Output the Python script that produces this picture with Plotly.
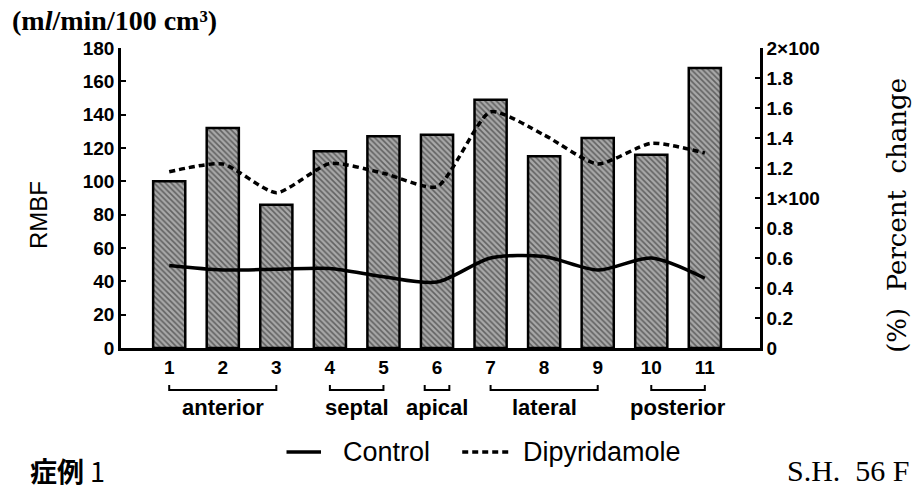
import plotly.graph_objects as go

# Regional myocardial blood flow per segment and percent change curves
segments = list(range(1, 12))
segment_labels = [str(s) for s in segments]
rmbf = [100, 132, 86, 118, 127, 128, 149, 115, 126, 116, 168]
control = [0.55, 0.52, 0.525, 0.53, 0.475, 0.44, 0.60, 0.61, 0.52, 0.60, 0.465]
dipyridamole = [1.175, 1.227, 1.035, 1.23, 1.165, 1.075, 1.575, 1.42, 1.227, 1.365, 1.30]

left_ticks = list(range(0, 181, 20))
right_ticks = [0, 0.2, 0.4, 0.6, 0.8, 1.0, 1.2, 1.4, 1.6, 1.8, 2.0]
right_ticktext = ["0", "0.2", "0.4", "0.6", "0.8", "1×100", "1.2", "1.4", "1.6", "1.8", "2×100"]

# Segment groups: (name, first segment, last segment)
groups = [("anterior", 1, 3), ("septal", 4, 5), ("apical", 6, 6),
          ("lateral", 7, 9), ("posterior", 10, 11)]

SANS = "Liberation Sans, Arial, sans-serif"
SERIF = "Liberation Serif, Times New Roman, serif"
SLAB = "DejaVu Serif, serif"

fig = go.Figure()

fig.add_trace(go.Bar(
    x=segments, y=rmbf, width=0.6, showlegend=False,
    marker=dict(color="#a8a8a8",
                line=dict(color="black", width=2.5),
                pattern=dict(shape="\\", fgcolor="#1a1a1a", size=4, solidity=0.4)),
))

line_styles = {
    "Control": dict(color="black", width=3.5, shape="spline", smoothing=0.8),
    "Dipyridamole": dict(color="black", width=3.5, dash="6px,4px", shape="spline", smoothing=0.6),
}
fig.add_trace(go.Scatter(x=segments, y=control, yaxis="y2", mode="lines",
                         name="Control", showlegend=False, line=line_styles["Control"]))
fig.add_trace(go.Scatter(x=segments, y=dipyridamole, yaxis="y2", mode="lines",
                         name="Dipyridamole", showlegend=False, line=line_styles["Dipyridamole"]))

shapes = []
annotations = []

# Brackets under the segment numbers, with group names
for name, first, last in groups:
    pad = 0.23 if first == last else 0.0
    x0, x1 = first - pad, last + pad
    path = f"M {x0},-0.123 L {x0},-0.14 L {x1},-0.14 L {x1},-0.123"
    shapes.append(dict(type="path", xref="x", yref="paper", path=path,
                       line=dict(color="black", width=2)))
    annotations.append(dict(x=(first + last) / 2, y=-0.197, xref="x", yref="paper",
                            text=f"<b>{name}</b>", showarrow=False,
                            font=dict(family=SANS, size=22, color="black"),
                            xanchor="center", yanchor="middle"))

# Key for the two curves
legend_items = [("Control", 0.259, 0.313, 0.345), ("Dipyridamole", 0.534, 0.609, 0.626)]
for name, lx0, lx1, tx in legend_items:
    st = line_styles[name]
    shapes.append(dict(type="line", xref="paper", yref="paper", x0=lx0, x1=lx1,
                       y0=-0.347, y1=-0.347,
                       line=dict(color="black", width=3.5, dash=st.get("dash", "solid"))))
    annotations.append(dict(x=tx, y=-0.347, xref="paper", yref="paper", text=name,
                            xanchor="left", yanchor="middle", showarrow=False,
                            font=dict(family=SANS, size=27, color="black")))

annotations += [
    dict(x=-0.174, y=1.093, xref="paper", yref="paper", xanchor="left", yanchor="middle",
         text="<b>(m<i>l</i>/min/100 cm³)</b>", showarrow=False,
         font=dict(family=SERIF, size=28, color="black")),
    dict(x=-0.13, y=0.443, xref="paper", yref="paper", xanchor="center", yanchor="middle",
         text="RMBF", textangle=-90, showarrow=False,
         font=dict(family=SANS, size=24, color="black")),
    dict(x=1.214, y=0.443, xref="paper", yref="paper", xanchor="center", yanchor="middle",
         text="(%)  Percent  change", textangle=-90, showarrow=False,
         font=dict(family=SLAB, size=26, color="black")),
    dict(x=-0.1455, y=-0.407, xref="paper", yref="paper", xanchor="left", yanchor="middle",
         text="<b>症例</b> 1", showarrow=False,
         font=dict(family="Noto Sans CJK JP, sans-serif", size=27, color="black")),
    dict(x=1.238, y=-0.407, xref="paper", yref="paper", xanchor="right", yanchor="middle",
         text="S.H.  56 F", showarrow=False,
         font=dict(family=SERIF, size=30, color="black")),
]

tick_font = dict(family=SANS, size=19, color="black", weight="bold")

fig.update_layout(
    width=914, height=493,
    margin=dict(l=121, r=154, t=48, b=145),
    paper_bgcolor="white", plot_bgcolor="white",
    showlegend=False,
    xaxis=dict(range=[0.1, 12.03], tickvals=segments, ticktext=segment_labels,
               showline=True, linecolor="black", linewidth=2.5, ticks="",
               showgrid=False, zeroline=False, tickfont=tick_font),
    yaxis=dict(range=[0, 180], tickvals=left_ticks, showline=True, linecolor="black",
               linewidth=2.5, ticks="inside", ticklen=5, tickwidth=2, tickcolor="black",
               showgrid=False, zeroline=False, tickfont=tick_font),
    yaxis2=dict(range=[0, 2], overlaying="y", side="right", tickvals=right_ticks,
                ticktext=right_ticktext, showline=True, linecolor="black", linewidth=2.5,
                ticks="inside", ticklen=5, tickwidth=2, tickcolor="black",
                showgrid=False, zeroline=False, tickfont=tick_font),
    shapes=shapes, annotations=annotations,
)

fig.write_html("out.html")
